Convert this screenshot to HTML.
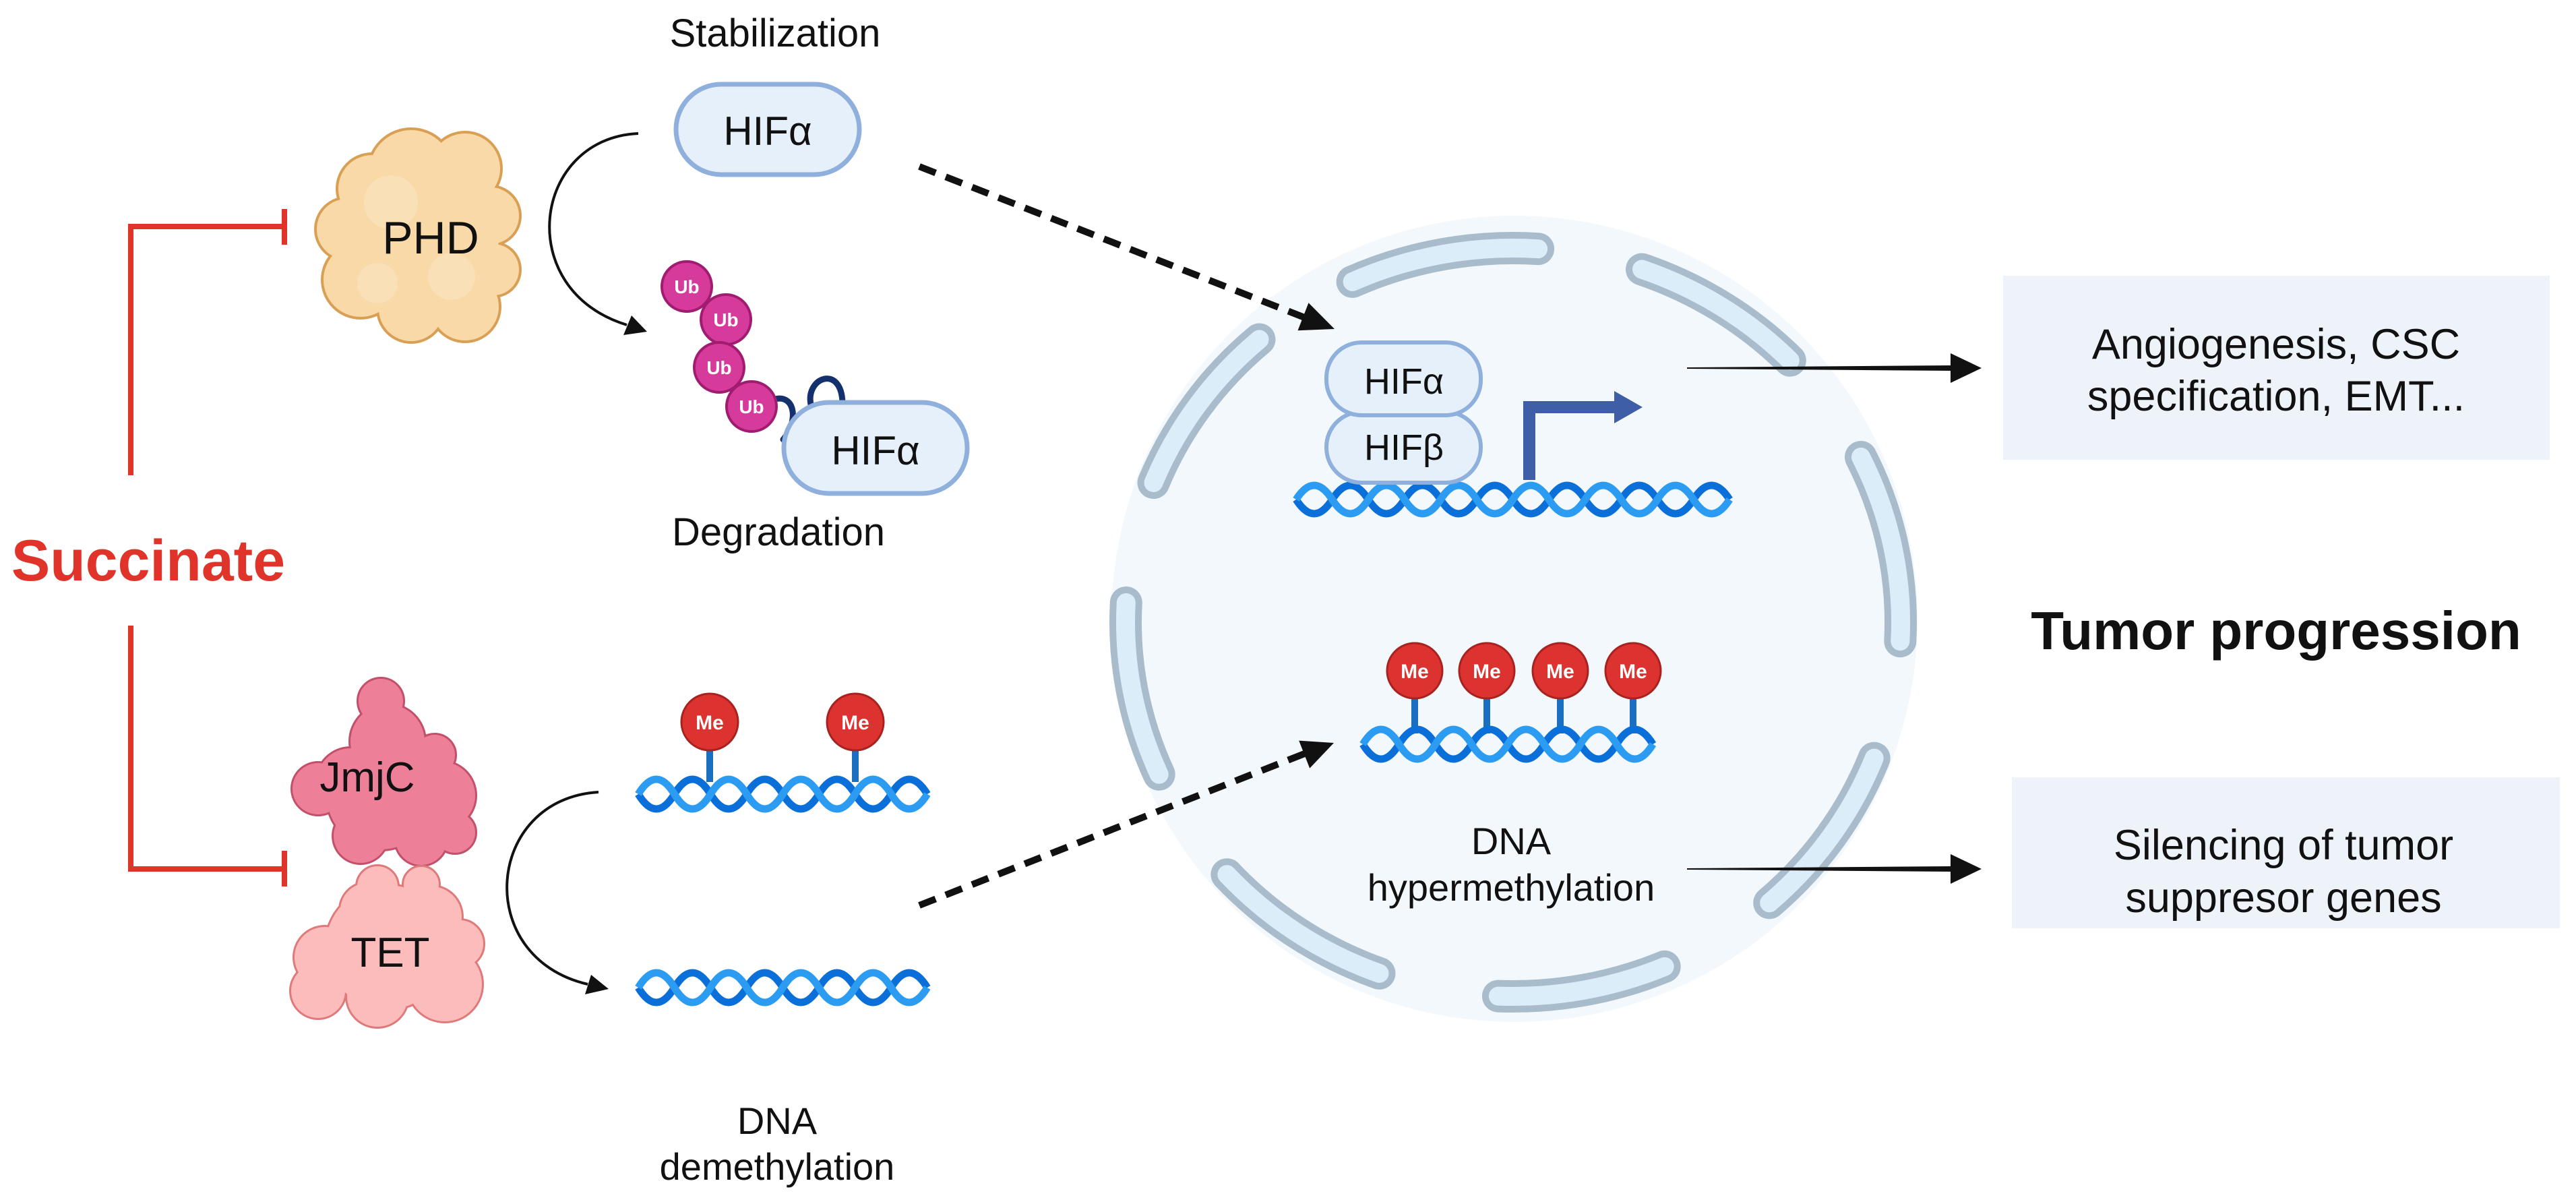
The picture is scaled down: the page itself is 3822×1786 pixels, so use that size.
<!DOCTYPE html>
<html><head><meta charset="utf-8"><style>
html,body{margin:0;padding:0;background:#fff;}
svg{display:block;font-family:"Liberation Sans",Arial,sans-serif;}
</style></head><body>
<svg width="3822" height="1786" viewBox="0 0 3822 1786" xmlns="http://www.w3.org/2000/svg">
<defs>
<marker id="ah" markerWidth="10" markerHeight="10" refX="6" refY="5" orient="auto" markerUnits="userSpaceOnUse" viewBox="0 0 10 10">
</marker>
</defs>
<rect width="3822" height="1786" fill="#fff"/>

<!-- Succinate inhibition lines -->
<g stroke="#e0342b" stroke-width="8" fill="none">
<polyline points="194,705 194,336 422,336"/>
<line x1="422" y1="310" x2="422" y2="363"/>
<polyline points="194,928 194,1289 422,1289"/>
<line x1="422" y1="1262" x2="422" y2="1315"/>
</g>
<text x="220" y="861" text-anchor="middle" font-size="86" font-weight="bold" fill="#e0342b">Succinate</text>

<!-- PHD blob -->
<g stroke="#d9a055" stroke-width="8" fill="#f9d9a8">
<circle cx="610" cy="255" r="62"/><circle cx="690" cy="250" r="52"/><circle cx="728" cy="320" r="42"/><circle cx="732" cy="400" r="38"/><circle cx="690" cy="455" r="50"/><circle cx="610" cy="458" r="48"/><circle cx="535" cy="415" r="55"/><circle cx="515" cy="340" r="45"/><circle cx="552" cy="280" r="50"/><circle cx="620" cy="350" r="120"/>
</g>
<g fill="#f9d9a8">
<circle cx="610" cy="255" r="62"/><circle cx="690" cy="250" r="52"/><circle cx="728" cy="320" r="42"/><circle cx="732" cy="400" r="38"/><circle cx="690" cy="455" r="50"/><circle cx="610" cy="458" r="48"/><circle cx="535" cy="415" r="55"/><circle cx="515" cy="340" r="45"/><circle cx="552" cy="280" r="50"/><circle cx="620" cy="350" r="120"/>
</g>
<g fill="#fbe3bd" opacity="0.7"><circle cx="580" cy="300" r="40"/><circle cx="670" cy="410" r="35"/><circle cx="560" cy="420" r="30"/></g>
<text x="639" y="376" text-anchor="middle" font-size="68" fill="#111">PHD</text>

<!-- JmjC blob -->
<g stroke="#c2506a" stroke-width="6" fill="#ee7f98">
<circle cx="565" cy="1040" r="33"/><circle cx="575" cy="1100" r="55"/><circle cx="520" cy="1160" r="50"/><circle cx="472" cy="1170" r="38"/><circle cx="565" cy="1180" r="80"/><circle cx="655" cy="1180" r="50"/><circle cx="675" cy="1235" r="30"/><circle cx="625" cy="1245" r="38"/><circle cx="535" cy="1240" r="40"/><circle cx="645" cy="1120" r="30"/>
</g>
<g fill="#ee7f98">
<circle cx="565" cy="1040" r="33"/><circle cx="575" cy="1100" r="55"/><circle cx="520" cy="1160" r="50"/><circle cx="472" cy="1170" r="38"/><circle cx="565" cy="1180" r="80"/><circle cx="655" cy="1180" r="50"/><circle cx="675" cy="1235" r="30"/><circle cx="625" cy="1245" r="38"/><circle cx="535" cy="1240" r="40"/><circle cx="645" cy="1120" r="30"/>
</g>
<text x="545" y="1174" text-anchor="middle" font-size="62" fill="#111">JmjC</text>

<!-- TET blob -->
<g stroke="#e07a7a" stroke-width="6" fill="#fdbcbc">
<circle cx="560" cy="1315" r="30"/><circle cx="625" cy="1312" r="26"/><circle cx="575" cy="1405" r="92"/><circle cx="482" cy="1420" r="45"/><circle cx="472" cy="1470" r="40"/><circle cx="560" cy="1478" r="45"/><circle cx="660" cy="1460" r="55"/><circle cx="682" cy="1400" r="35"/><circle cx="545" cy="1350" r="40"/><circle cx="640" cy="1360" r="45"/>
</g>
<g fill="#fdbcbc">
<circle cx="560" cy="1315" r="30"/><circle cx="625" cy="1312" r="26"/><circle cx="575" cy="1405" r="92"/><circle cx="482" cy="1420" r="45"/><circle cx="472" cy="1470" r="40"/><circle cx="560" cy="1478" r="45"/><circle cx="660" cy="1460" r="55"/><circle cx="682" cy="1400" r="35"/><circle cx="545" cy="1350" r="40"/><circle cx="640" cy="1360" r="45"/>
</g>
<text x="579" y="1434" text-anchor="middle" font-size="62" fill="#111">TET</text>

<!-- Stabilization / HIF top -->
<text x="1150" y="69" text-anchor="middle" font-size="58" fill="#111">Stabilization</text>
<rect x="1003" y="125" width="272" height="134" rx="67" fill="#e6f0fb" stroke="#8fb0dc" stroke-width="7"/>
<text x="1139" y="215" text-anchor="middle" font-size="60" fill="#111">HIFα</text>

<!-- curved arrows -->
<path d="M947 198 C 790 205, 760 430, 930 482" fill="none" stroke="#111" stroke-width="4"/>
<polygon points="960,492 925,497 937,468" fill="#111"/>
<path d="M888 1175 C 720 1185, 700 1420, 872 1460" fill="none" stroke="#111" stroke-width="4"/>
<polygon points="903,1467 868,1475 877,1446" fill="#111"/>

<!-- Ub chain -->
<g fill="none" stroke="#14316e" stroke-width="9" stroke-linecap="round">
<path d="M1150 592 C1180 585, 1185 625, 1162 652"/>
<path d="M1203 600 C1195 560, 1248 540, 1250 597"/>
</g>
<g fill="#d63a9a" stroke="#a01c70" stroke-width="4">
<circle cx="1019" cy="425" r="37"/><circle cx="1077" cy="474" r="37"/><circle cx="1067" cy="545" r="37"/><circle cx="1115" cy="603" r="37"/>
</g>
<g font-size="28" font-weight="bold" fill="#fff" text-anchor="middle">
<text x="1019" y="435">Ub</text><text x="1077" y="484">Ub</text><text x="1067" y="555">Ub</text><text x="1115" y="613">Ub</text>
</g>
<rect x="1163" y="597" width="272" height="135" rx="67" fill="#e6f0fb" stroke="#8fb0dc" stroke-width="7"/>
<text x="1299" y="689" text-anchor="middle" font-size="60" fill="#111">HIFα</text>
<text x="1155" y="809" text-anchor="middle" font-size="58" fill="#111">Degradation</text>

<!-- left DNA with Me -->
<g stroke="#1a6fc0" stroke-width="10"><line x1="1053" y1="1110" x2="1053" y2="1160"/><line x1="1269" y1="1110" x2="1269" y2="1160"/></g>
<g fill="none" stroke-width="11">
<path stroke="#0a6fd8" d="M947 1178 q26.8 44 53.6 0 t53.6 0 t53.6 0 t53.6 0 t53.6 0 t53.6 0 t53.6 0 t53.6 0"/>
<path stroke="#2b9cf2" d="M947 1178 q26.8 -44 53.6 0 t53.6 0 t53.6 0 t53.6 0 t53.6 0 t53.6 0 t53.6 0 t53.6 0"/>
<path stroke="#0a6fd8" d="M947 1465 q26.8 44 53.6 0 t53.6 0 t53.6 0 t53.6 0 t53.6 0 t53.6 0 t53.6 0 t53.6 0"/>
<path stroke="#2b9cf2" d="M947 1465 q26.8 -44 53.6 0 t53.6 0 t53.6 0 t53.6 0 t53.6 0 t53.6 0 t53.6 0 t53.6 0"/>
</g>
<g fill="#dc3330" stroke="#a8221f" stroke-width="3"><circle cx="1053" cy="1071" r="42"/><circle cx="1269" cy="1071" r="42"/></g>
<g font-size="30" font-weight="bold" fill="#fff" text-anchor="middle"><text x="1053" y="1082">Me</text><text x="1269" y="1082">Me</text></g>
<text x="1153" y="1682" text-anchor="middle" font-size="56" fill="#111">DNA</text>
<text x="1153" y="1750" text-anchor="middle" font-size="56" fill="#111">demethylation</text>

<!-- nucleus -->
<circle cx="2247" cy="918" r="598" fill="#f3f8fd"/>
<g fill="none" stroke="#a8bccb" stroke-width="48" stroke-linecap="round">
<path d="M2006.6 417.9 A575 555 0 0 1 2282.1 369.2"/>
<path d="M2436 399.5 A575 555 0 0 1 2655.8 534.7"/>
<path d="M2761 678 A575 555 0 0 1 2819.3 951.1"/>
<path d="M2780.7 1124.6 A575 555 0 0 1 2625.2 1339.3"/>
<path d="M2469.7 1433.9 A575 555 0 0 1 2222.9 1477.6"/>
<path d="M2046.5 1443.9 A575 555 0 0 1 1820.4 1297.2"/>
<path d="M1719.7 1148.7 A575 555 0 0 1 1670.8 894"/>
<path d="M1711.5 716 A575 555 0 0 1 1868.5 503.5"/>
</g>
<g fill="none" stroke="#dcedfa" stroke-width="28" stroke-linecap="round">
<path d="M2006.6 417.9 A575 555 0 0 1 2282.1 369.2"/>
<path d="M2436 399.5 A575 555 0 0 1 2655.8 534.7"/>
<path d="M2761 678 A575 555 0 0 1 2819.3 951.1"/>
<path d="M2780.7 1124.6 A575 555 0 0 1 2625.2 1339.3"/>
<path d="M2469.7 1433.9 A575 555 0 0 1 2222.9 1477.6"/>
<path d="M2046.5 1443.9 A575 555 0 0 1 1820.4 1297.2"/>
<path d="M1719.7 1148.7 A575 555 0 0 1 1670.8 894"/>
<path d="M1711.5 716 A575 555 0 0 1 1868.5 503.5"/>
</g>

<!-- dashed arrows -->
<g stroke="#111" stroke-width="10" stroke-dasharray="26 16" fill="none">
<line x1="1364" y1="247" x2="1938" y2="472"/>
<line x1="1364" y1="1343" x2="1938" y2="1117"/>
</g>
<polygon points="1980,488 1925.5,490.3 1941.5,449.3" fill="#111"/>
<polygon points="1979,1102 1943.2,1139.6 1927.2,1098.6" fill="#111"/>

<!-- HIF complex -->
<path d="M2269 712 V604 H2400" fill="none" stroke="#3f5ea8" stroke-width="18"/>
<polygon points="2395,580 2437,604 2395,628" fill="#3f5ea8"/>
<g fill="none" stroke-width="11">
<path stroke="#0a6fd8" d="M1923 741 q26.8 42 53.6 0 t53.6 0 t53.6 0 t53.6 0 t53.6 0 t53.6 0 t53.6 0 t53.6 0 t53.6 0 t53.6 0 t53.6 0 t53.6 0"/>
<path stroke="#2b9cf2" d="M1923 741 q26.8 -42 53.6 0 t53.6 0 t53.6 0 t53.6 0 t53.6 0 t53.6 0 t53.6 0 t53.6 0 t53.6 0 t53.6 0 t53.6 0 t53.6 0"/>
</g>
<rect x="1968" y="611" width="229" height="105" rx="52" fill="#e6f0fb" stroke="#8fb0dc" stroke-width="6"/>
<rect x="1968" y="508" width="229" height="108" rx="52" fill="#e6f0fb" stroke="#8fb0dc" stroke-width="6"/>
<text x="2083" y="584" text-anchor="middle" font-size="54" fill="#111">HIFα</text>
<text x="2083" y="682" text-anchor="middle" font-size="54" fill="#111">HIFβ</text>

<!-- nucleus Me DNA -->
<g stroke="#1a6fc0" stroke-width="10"><line x1="2099" y1="1030" x2="2099" y2="1088"/><line x1="2206" y1="1030" x2="2206" y2="1088"/><line x1="2315" y1="1030" x2="2315" y2="1088"/><line x1="2423" y1="1030" x2="2423" y2="1088"/></g>
<g fill="none" stroke-width="11">
<path stroke="#0a6fd8" d="M2022 1104 q26.9 44 53.8 0 t53.8 0 t53.8 0 t53.8 0 t53.8 0 t53.8 0 t53.8 0 t53.8 0"/>
<path stroke="#2b9cf2" d="M2022 1104 q26.9 -44 53.8 0 t53.8 0 t53.8 0 t53.8 0 t53.8 0 t53.8 0 t53.8 0 t53.8 0"/>
</g>
<g fill="#dc3330" stroke="#a8221f" stroke-width="3"><circle cx="2099" cy="995" r="41"/><circle cx="2206" cy="995" r="41"/><circle cx="2315" cy="995" r="41"/><circle cx="2423" cy="995" r="41"/></g>
<g font-size="30" font-weight="bold" fill="#fff" text-anchor="middle"><text x="2099" y="1006">Me</text><text x="2206" y="1006">Me</text><text x="2315" y="1006">Me</text><text x="2423" y="1006">Me</text></g>
<text x="2242" y="1267" text-anchor="middle" font-size="56" fill="#111">DNA</text>
<text x="2242" y="1336" text-anchor="middle" font-size="56" fill="#111">hypermethylation</text>

<!-- right arrows -->
<polygon points="2503,545 2896,542 2896,550 2503,547" fill="#111"/>
<polygon points="2894,524 2940,546 2894,568" fill="#111"/>
<polygon points="2503,1288 2896,1285 2896,1293 2503,1290" fill="#111"/>
<polygon points="2894,1267 2940,1289 2894,1311" fill="#111"/>

<!-- boxes -->
<rect x="2972" y="409" width="811" height="273" fill="#eef3f9"/>
<text x="3377" y="532" text-anchor="middle" font-size="63" fill="#111">Angiogenesis, CSC</text>
<text x="3377" y="609" text-anchor="middle" font-size="63" fill="#111">specification, EMT...</text>
<text x="3377" y="963" text-anchor="middle" font-size="80" font-weight="bold" fill="#111">Tumor progression</text>
<rect x="2985" y="1153" width="813" height="224" fill="#eef3f9"/>
<text x="3388" y="1275" text-anchor="middle" font-size="63" fill="#111">Silencing of tumor</text>
<text x="3388" y="1353" text-anchor="middle" font-size="63" fill="#111">suppresor genes</text>
</svg>
</body></html>
